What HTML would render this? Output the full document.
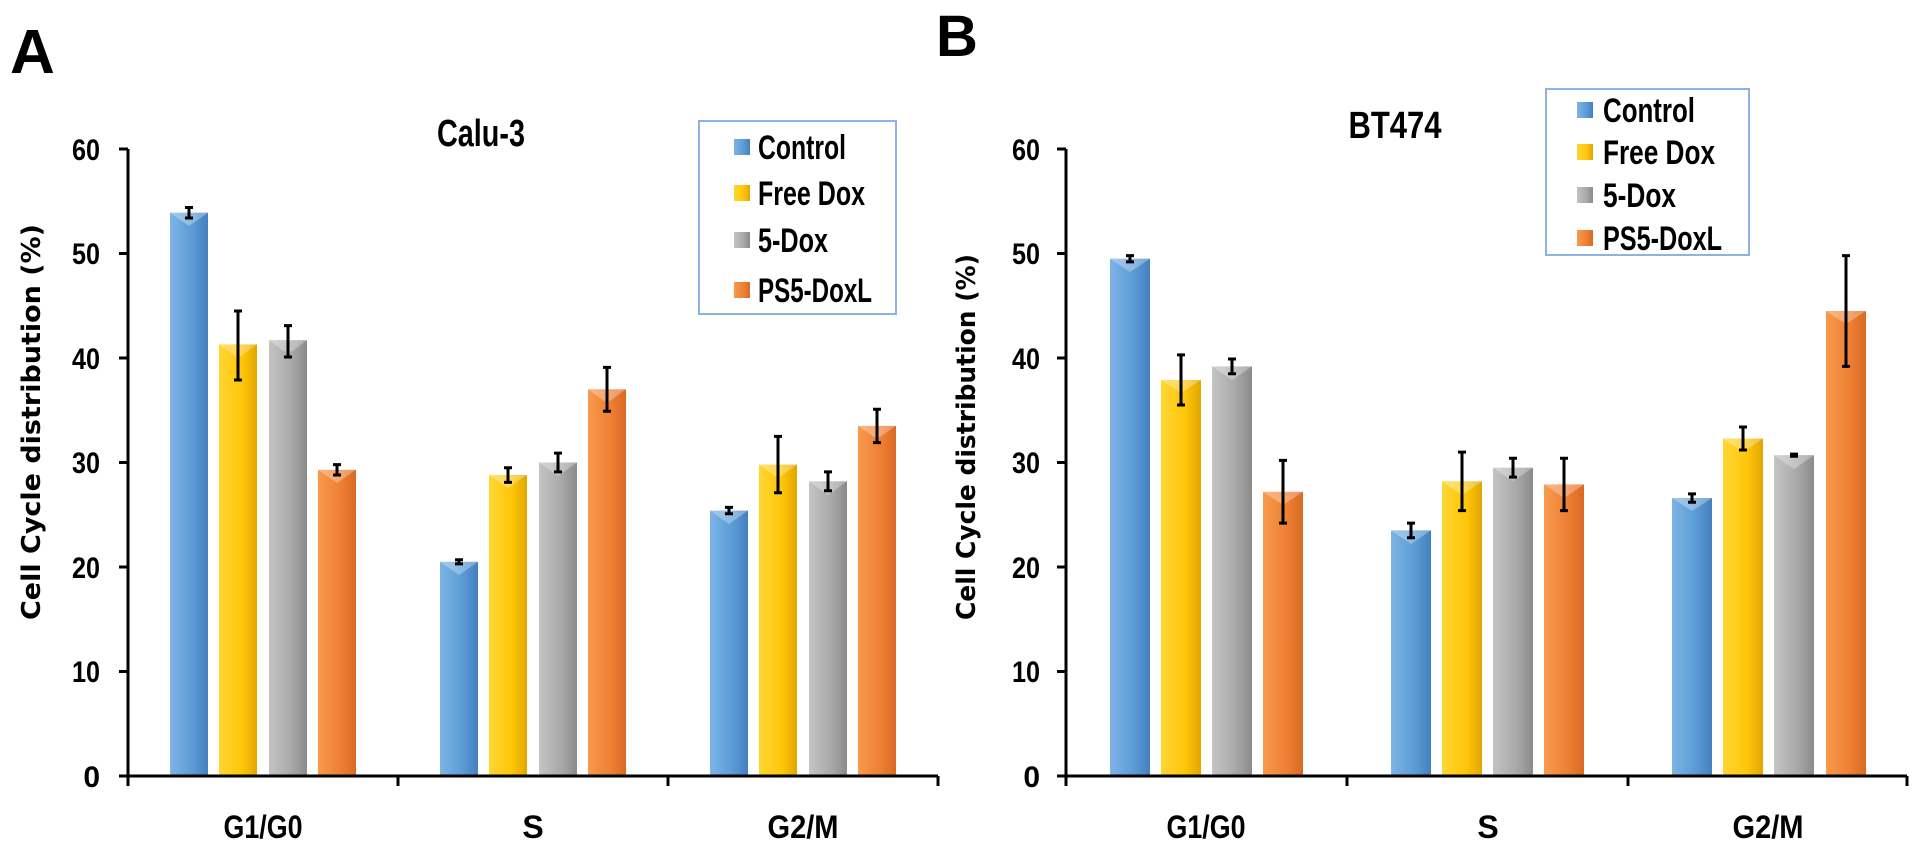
<!DOCTYPE html>
<html><head><meta charset="utf-8"><style>
html,body{margin:0;padding:0;background:#fff;}
svg{display:block;}
text{font-family:"Liberation Sans",sans-serif;font-weight:bold;fill:#000;}
</style></head><body>
<svg width="1920" height="853" viewBox="0 0 1920 853" xmlns="http://www.w3.org/2000/svg">
<defs>
<linearGradient id="gb" x1="0" x2="1" y1="0" y2="0"><stop offset="0" stop-color="#7db4e6"/><stop offset="0.6" stop-color="#5b9bd5"/><stop offset="1" stop-color="#4480bf"/></linearGradient>
<linearGradient id="gy" x1="0" x2="1" y1="0" y2="0"><stop offset="0" stop-color="#ffd633"/><stop offset="0.6" stop-color="#ffc60a"/><stop offset="1" stop-color="#e0a600"/></linearGradient>
<linearGradient id="gg" x1="0" x2="1" y1="0" y2="0"><stop offset="0" stop-color="#c4c4c4"/><stop offset="0.6" stop-color="#a8a8a8"/><stop offset="1" stop-color="#8a8a8a"/></linearGradient>
<linearGradient id="go" x1="0" x2="1" y1="0" y2="0"><stop offset="0" stop-color="#f89a4d"/><stop offset="0.6" stop-color="#ee7f33"/><stop offset="1" stop-color="#d86a24"/></linearGradient>
</defs>

<text x="10" y="73" font-size="62">A</text>
<text x="936" y="56" font-size="58">B</text>

<!-- ===== Panel A ===== -->
<text x="481" y="146" font-size="38" text-anchor="middle" textLength="88" lengthAdjust="spacingAndGlyphs">Calu-3</text>
<text transform="translate(40,422) rotate(-90)" font-size="26" text-anchor="middle" textLength="396" lengthAdjust="spacingAndGlyphs" style="font-family:'DejaVu Sans',sans-serif">Cell Cycle distribution (%)</text>
<g font-size="30" text-anchor="end">
<text x="100" y="787">0</text><text x="100" y="682" textLength="28" lengthAdjust="spacingAndGlyphs">10</text><text x="100" y="578" textLength="28" lengthAdjust="spacingAndGlyphs">20</text><text x="100" y="473" textLength="28" lengthAdjust="spacingAndGlyphs">30</text><text x="100" y="369" textLength="28" lengthAdjust="spacingAndGlyphs">40</text><text x="100" y="264" textLength="28" lengthAdjust="spacingAndGlyphs">50</text><text x="100" y="160" textLength="28" lengthAdjust="spacingAndGlyphs">60</text>
</g>
<rect x="170" y="212.7" width="38" height="563.3" fill="url(#gb)"/>
<rect x="219" y="344.4" width="38" height="431.6" fill="url(#gy)"/>
<rect x="269" y="340.2" width="38" height="435.8" fill="url(#gg)"/>
<rect x="318" y="469.8" width="38" height="306.2" fill="url(#go)"/>
<rect x="440" y="561.8" width="38" height="214.2" fill="url(#gb)"/>
<rect x="489" y="475" width="38" height="301" fill="url(#gy)"/>
<rect x="539" y="462.5" width="38" height="313.5" fill="url(#gg)"/>
<rect x="588" y="389.3" width="38" height="386.7" fill="url(#go)"/>
<rect x="710" y="510.6" width="38" height="265.4" fill="url(#gb)"/>
<rect x="759" y="464.6" width="38" height="311.4" fill="url(#gy)"/>
<rect x="809" y="481.3" width="38" height="294.7" fill="url(#gg)"/>
<rect x="858" y="425.9" width="38" height="350.1" fill="url(#go)"/>
<g fill="#fff" opacity="0.3">
<polygon points="170,212.7 208,212.7 189,226"/><polygon points="219,344.4 257,344.4 238,358"/><polygon points="269,340.2 307,340.2 288,354"/><polygon points="318,469.8 356,469.8 337,483"/>
<polygon points="440,561.8 478,561.8 459,575"/><polygon points="489,475 527,475 508,488"/><polygon points="539,462.5 577,462.5 558,476"/><polygon points="588,389.3 626,389.3 607,403"/>
<polygon points="710,510.6 748,510.6 729,524"/><polygon points="759,464.6 797,464.6 778,478"/><polygon points="809,481.3 847,481.3 828,495"/><polygon points="858,425.9 896,425.9 877,439"/>
</g>
<g stroke="#000" stroke-width="3" fill="none">
<path d="M189 207.5V218M185 207.5h8M185 218h8"/>
<path d="M238 311V380M234 311h8M234 380h8"/>
<path d="M288 325.6V357M284 325.6h8M284 357h8"/>
<path d="M337 464.6V475M333 464.6h8M333 475h8"/>
<path d="M459 559.7V563.9M455 559.7h8M455 563.9h8"/>
<path d="M508 467.7V482.4M504 467.7h8M504 482.4h8"/>
<path d="M558 453.1V471.9M554 453.1h8M554 471.9h8"/>
<path d="M607 367.4V411.3M603 367.4h8M603 411.3h8"/>
<path d="M729 507.4V513.7M725 507.4h8M725 513.7h8"/>
<path d="M778 436.4V492.8M774 436.4h8M774 492.8h8"/>
<path d="M828 471.9V490.7M824 471.9h8M824 490.7h8"/>
<path d="M877 409.2V442.6M873 409.2h8M873 442.6h8"/>
</g>
<g stroke="#000" stroke-width="3" fill="none">
<path d="M128 149V776H938"/>
<path d="M119 149h9M119 253.5h9M119 358h9M119 462.5h9M119 567h9M119 671.5h9M119 776h9"/>
<path d="M128 776v10M398 776v10M668 776v10M938 776v10"/>
</g>
<g font-size="32" text-anchor="middle">
<text x="263" y="838" textLength="79" lengthAdjust="spacingAndGlyphs">G1/G0</text>
<text x="533" y="838">S</text>
<text x="803" y="838" textLength="71" lengthAdjust="spacingAndGlyphs">G2/M</text>
</g>
<rect x="699" y="121" width="197" height="193" fill="#fff" stroke="#8db3e2" stroke-width="2"/>
<rect x="734" y="139" width="16" height="16" fill="url(#gb)"/>
<rect x="734" y="185" width="16" height="16" fill="url(#gy)"/>
<rect x="734" y="232" width="16" height="16" fill="url(#gg)"/>
<rect x="734" y="282" width="16" height="16" fill="url(#go)"/>
<g font-size="34">
<text x="758" y="159" textLength="88" lengthAdjust="spacingAndGlyphs">Control</text>
<text x="758" y="205" textLength="107" lengthAdjust="spacingAndGlyphs">Free Dox</text>
<text x="758" y="252" textLength="70" lengthAdjust="spacingAndGlyphs">5-Dox</text>
<text x="758" y="302" textLength="114" lengthAdjust="spacingAndGlyphs">PS5-DoxL</text>
</g>

<!-- ===== Panel B ===== -->
<text x="1395" y="138" font-size="38" text-anchor="middle" textLength="93" lengthAdjust="spacingAndGlyphs">BT474</text>
<text transform="translate(975,437) rotate(-90)" font-size="26" text-anchor="middle" textLength="366" lengthAdjust="spacingAndGlyphs" style="font-family:'DejaVu Sans',sans-serif">Cell Cycle distribution (%)</text>
<g font-size="30" text-anchor="end">
<text x="1040" y="787">0</text><text x="1040" y="682" textLength="28" lengthAdjust="spacingAndGlyphs">10</text><text x="1040" y="578" textLength="28" lengthAdjust="spacingAndGlyphs">20</text><text x="1040" y="473" textLength="28" lengthAdjust="spacingAndGlyphs">30</text><text x="1040" y="369" textLength="28" lengthAdjust="spacingAndGlyphs">40</text><text x="1040" y="264" textLength="28" lengthAdjust="spacingAndGlyphs">50</text><text x="1040" y="160" textLength="28" lengthAdjust="spacingAndGlyphs">60</text>
</g>
<rect x="1110" y="258.7" width="40" height="517.3" fill="url(#gb)"/>
<rect x="1161" y="380" width="40" height="396" fill="url(#gy)"/>
<rect x="1212" y="366.4" width="40" height="409.6" fill="url(#gg)"/>
<rect x="1263" y="491.8" width="40" height="284.2" fill="url(#go)"/>
<rect x="1391" y="530.4" width="40" height="245.6" fill="url(#gb)"/>
<rect x="1442" y="481.3" width="40" height="294.7" fill="url(#gy)"/>
<rect x="1493" y="467.7" width="40" height="308.3" fill="url(#gg)"/>
<rect x="1544" y="484.4" width="40" height="291.6" fill="url(#go)"/>
<rect x="1672" y="498" width="40" height="278" fill="url(#gb)"/>
<rect x="1723" y="438.5" width="40" height="337.5" fill="url(#gy)"/>
<rect x="1774" y="455.2" width="40" height="320.8" fill="url(#gg)"/>
<rect x="1826" y="311" width="40" height="465" fill="url(#go)"/>
<g fill="#fff" opacity="0.3">
<polygon points="1110,258.7 1150,258.7 1130,272"/><polygon points="1161,380 1201,380 1181,393"/><polygon points="1212,366.4 1252,366.4 1232,380"/><polygon points="1263,491.8 1303,491.8 1283,505"/>
<polygon points="1391,530.4 1431,530.4 1411,544"/><polygon points="1442,481.3 1482,481.3 1462,495"/><polygon points="1493,467.7 1533,467.7 1513,481"/><polygon points="1544,484.4 1584,484.4 1564,498"/>
<polygon points="1672,498 1712,498 1692,511"/><polygon points="1723,438.5 1763,438.5 1743,452"/><polygon points="1774,455.2 1814,455.2 1794,469"/><polygon points="1826,311 1866,311 1846,324"/>
</g>
<g stroke="#000" stroke-width="3" fill="none">
<path d="M1130 255.6V261.9M1126 255.6h8M1126 261.9h8"/>
<path d="M1181 354.9V405M1177 354.9h8M1177 405h8"/>
<path d="M1232 359V373.7M1228 359h8M1228 373.7h8"/>
<path d="M1283 460.4V523.1M1279 460.4h8M1279 523.1h8"/>
<path d="M1411 523.1V537.7M1407 523.1h8M1407 537.7h8"/>
<path d="M1462 452.1V510.6M1458 452.1h8M1458 510.6h8"/>
<path d="M1513 458.3V477.1M1509 458.3h8M1509 477.1h8"/>
<path d="M1564 458.3V510.6M1560 458.3h8M1560 510.6h8"/>
<path d="M1692 493.9V502.2M1688 493.9h8M1688 502.2h8"/>
<path d="M1743 427V450M1739 427h8M1739 450h8"/>
<path d="M1794 454.1V456.2M1790 454.1h8M1790 456.2h8"/>
<path d="M1846 255.6V366.4M1842 255.6h8M1842 366.4h8"/>
</g>
<g stroke="#000" stroke-width="3" fill="none">
<path d="M1066 149V776H1907"/>
<path d="M1057 149h9M1057 253.5h9M1057 358h9M1057 462.5h9M1057 567h9M1057 671.5h9M1057 776h9"/>
<path d="M1066 776v10M1347 776v10M1628 776v10M1907 776v10"/>
</g>
<g font-size="32" text-anchor="middle">
<text x="1206" y="838" textLength="79" lengthAdjust="spacingAndGlyphs">G1/G0</text>
<text x="1488" y="838">S</text>
<text x="1768" y="838" textLength="71" lengthAdjust="spacingAndGlyphs">G2/M</text>
</g>
<rect x="1546" y="89" width="203" height="166" fill="#fff" stroke="#8db3e2" stroke-width="2"/>
<rect x="1577" y="102" width="16" height="16" fill="url(#gb)"/>
<rect x="1577" y="144" width="16" height="16" fill="url(#gy)"/>
<rect x="1577" y="187" width="16" height="16" fill="url(#gg)"/>
<rect x="1577" y="230" width="16" height="16" fill="url(#go)"/>
<g font-size="34">
<text x="1603" y="122" textLength="92" lengthAdjust="spacingAndGlyphs">Control</text>
<text x="1603" y="164" textLength="112" lengthAdjust="spacingAndGlyphs">Free Dox</text>
<text x="1603" y="207" textLength="73" lengthAdjust="spacingAndGlyphs">5-Dox</text>
<text x="1603" y="250" textLength="119" lengthAdjust="spacingAndGlyphs">PS5-DoxL</text>
</g>
</svg>
</body></html>
